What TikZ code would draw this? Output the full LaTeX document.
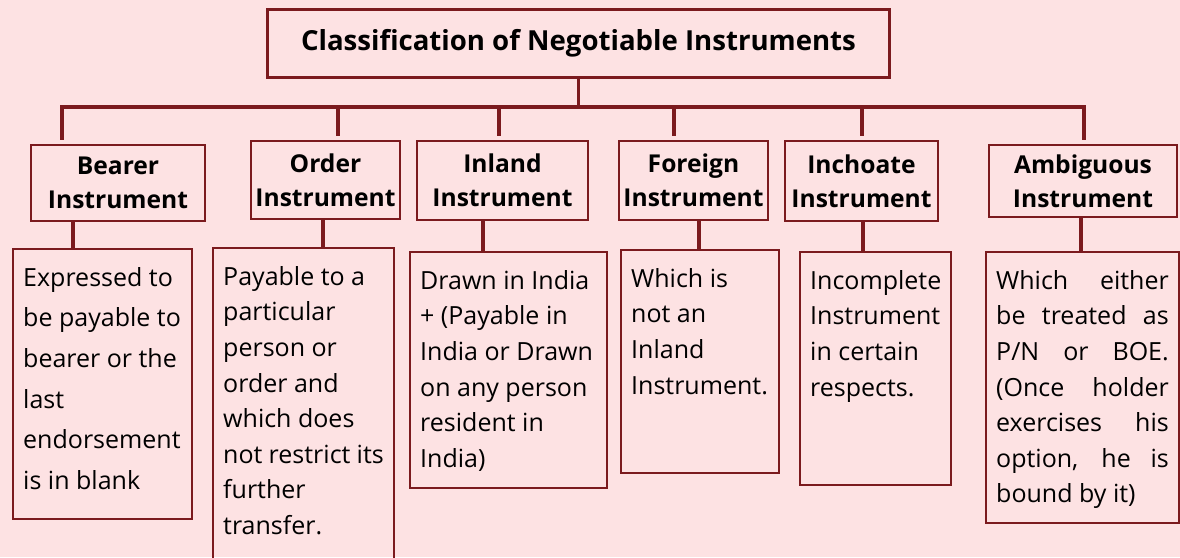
\documentclass[tikz,border=0pt]{standalone}
\usepackage{fontspec}
\setmainfont{Open Sans}
\usetikzlibrary{positioning}
\definecolor{maroon}{HTML}{7B1A1E}
\definecolor{blush}{HTML}{FDE2E3}
\newcommand{\desctext}[3]{\parbox[t][#2][t]{#1}{\raggedright\rule{0pt}{25pt}#3}}
\tikzset{
  titlebox/.style={draw=maroon, line width=3.2pt, minimum width=622pt, minimum height=68pt, font=\fontsize{27.6}{34}\selectfont\bfseries},
  headbox/.style={draw=maroon, line width=2.4pt, align=center, inner sep=0pt, font=\fontsize{24.6}{34}\selectfont\bfseries},
  descbox/.style={draw=maroon, line width=2.4pt, anchor=north west, inner xsep=10pt, inner ysep=12pt, font=\fontsize{25}{35.6}\selectfont},
  link/.style={draw=maroon, line width=3.2pt},
}
\begin{document}
\begin{tikzpicture}[x=1pt,y=-1pt]
\fill[blush] (0,0) rectangle (1180,557);
\useasboundingbox (0,0) rectangle (1180,557);
% title
\node[titlebox] (title) at (578.5,43.5) {Classification of Negotiable Instruments};
% kinds
\node[headbox, minimum width=174pt, minimum height=76pt] (bearer) at (118,183) {Bearer\\Instrument};
\node[headbox, minimum width=149pt, minimum height=78pt] (order) at (325.5,180) {Order\\Instrument};
\node[headbox, minimum width=171pt, minimum height=79pt] (inland) at (502.5,180.5) {Inland\\Instrument};
\node[headbox, minimum width=149pt, minimum height=79pt] (foreign) at (693.5,180.5) {Foreign\\Instrument};
\node[headbox, minimum width=153pt, minimum height=80pt] (inchoate) at (861.5,181) {Inchoate\\Instrument};
\node[headbox, minimum width=188pt, minimum height=72pt] (ambiguous) at (1083,181) {Ambiguous\\Instrument};
% meanings
\node[descbox, font=\fontsize{25}{40.6}\selectfont] (bearer-d) at (12,248) {\desctext{158.6pt}{245.6pt}{Expressed to\\be payable to\\bearer or the\\last\\endorsement\\is in blank}};
\node[descbox] (order-d) at (212,247) {\desctext{160.6pt}{307.6pt}{Payable to a\\particular\\person or\\order and\\which does\\not restrict its\\further\\transfer.}};
\node[descbox] (inland-d) at (409,251) {\desctext{176.6pt}{211.6pt}{Drawn in India\\+ (Payable in\\India or Drawn\\on any person\\resident in\\India)}};
\node[descbox] (foreign-d) at (620,249) {\desctext{137.6pt}{198.6pt}{Which is\\not an\\Inland\\Instrument.}};
\node[descbox] (inchoate-d) at (799,251) {\desctext{130.6pt}{208.6pt}{Incomplete\\Instrument\\in certain\\respects.}};
\node[descbox] (ambiguous-d) at (985,251) {\desctext{172.6pt}{246.6pt}{\makebox[\linewidth][s]{Which either}\\\makebox[\linewidth][s]{be treated as}\\\makebox[\linewidth][s]{P/N or BOE.}\\\makebox[\linewidth][s]{(Once holder}\\\makebox[\linewidth][s]{exercises his}\\\makebox[\linewidth][s]{option, he is}\\bound by it)}};
% bus
\coordinate (busL) at (62,107);
\coordinate (busR) at (1084,107);
\draw[link] (title.south) -- (title.south |- busL);
\draw[link] ([yshift=4pt]bearer.north -| busL) -- (busL) -- (busR) -- ([yshift=4pt]ambiguous.north -| busR);
\draw[link] (338,107) -- ([yshift=4pt]order.north -| 338,0);
\draw[link] (499,107) -- ([yshift=4pt]inland.north -| 499,0);
\draw[link] (674,107) -- ([yshift=4pt]foreign.north -| 674,0);
\draw[link] (862,107) -- ([yshift=4pt]inchoate.north -| 862,0);
% down to meanings
\draw[link] (bearer.south -| 73,0) -- (bearer-d.north -| 73,0);
\draw[link] (order.south -| 323,0) -- (order-d.north -| 323,0);
\draw[link] (inland.south -| 483,0) -- (inland-d.north -| 483,0);
\draw[link] (foreign.south -| 699,0) -- (foreign-d.north -| 699,0);
\draw[link] (inchoate.south -| 863,0) -- (inchoate-d.north -| 863,0);
\draw[link] (ambiguous.south -| 1081,0) -- (ambiguous-d.north -| 1081,0);
\end{tikzpicture}
\end{document}
